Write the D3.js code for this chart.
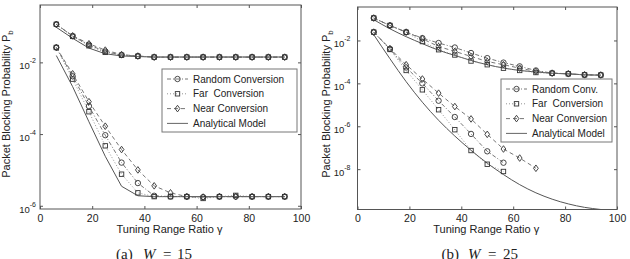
<!DOCTYPE html>
<html>
<head>
<meta charset="utf-8">
<script src="https://cdn.jsdelivr.net/npm/d3@7"></script>
<style>
  body { margin: 0; background: #fff; }
  svg { display: block; }
  text { font-family: "Liberation Sans", Arial, sans-serif; fill: #222; }
</style>
</head>
<body>
<div id="chart"></div>
<script>
// tuning range ratio values (x)
const gamma = [6.25, 12.5, 18.75, 25, 31.25, 37.5, 43.75, 50, 56.25, 62.5, 68.75, 75, 81.25, 87.5, 93.75];
const xTicks = [0, 20, 40, 60, 80, 100];

// (a) W = 15, upper group
const w15RandomHigh = [0.115, 0.054, 0.031, 0.020, 0.016, 0.015, 0.014, 0.014, 0.014, 0.014, 0.014, 0.014, 0.014, 0.014, 0.014];
const w15FarHigh    = [0.115, 0.053, 0.029, 0.019, 0.0158, 0.0148, 0.014, 0.014, 0.014, 0.014, 0.014, 0.014, 0.014, 0.014, 0.014];
const w15NearHigh   = [0.115, 0.055, 0.033, 0.022, 0.0165, 0.015, 0.014, 0.014, 0.014, 0.014, 0.014, 0.014, 0.014, 0.014, 0.014];
const w15ModelHigh  = [0.095, 0.047, 0.025, 0.0174, 0.0151, 0.0145, 0.0141, 0.0141, 0.0141, 0.0141, 0.0141, 0.0141, 0.0141, 0.0141, 0.0141];
// (a) W = 15, lower group
const w15RandomLow = [0.026, 0.0041, 6.0e-4, 9.3e-5, 1.6e-5, 4.3e-6, 1.9e-6, 1.8e-6, 1.8e-6, 1.75e-6, 1.8e-6, 1.8e-6, 1.8e-6, 1.8e-6, 1.8e-6];
const w15FarLow    = [0.026, 0.0034, 4.2e-4, 4.7e-5, 7.6e-6, 2.3e-6, 1.8e-6, 1.8e-6, 1.8e-6, 1.6e-6, 1.8e-6, 1.95e-6, 1.8e-6, 1.8e-6, 1.8e-6];
const w15NearLow   = [0.026, 0.0048, 8.0e-4, 1.66e-4, 3.7e-5, 1.0e-5, 3.6e-6, 2.3e-6, 1.8e-6, 1.75e-6, 1.8e-6, 1.8e-6, 1.8e-6, 1.8e-6, 1.8e-6];
const w15ModelLow  = [0.0155, 2.1e-3, 2.2e-4, 2.4e-5, 3.5e-6, 1.9e-6, 1.8e-6, 1.8e-6, 1.8e-6, 1.8e-6, 1.8e-6, 1.8e-6, 1.8e-6, 1.8e-6, 1.8e-6];

// (b) W = 25, upper group
const w25RandomHigh = [0.111, 0.050, 0.0245, 0.0129, 0.0076, 0.0047, 0.0026, 0.0015, 9.3e-4, 6.2e-4, 4.0e-4, 3.0e-4, 2.8e-4, 2.5e-4, 2.45e-4];
const w25FarHigh    = [0.111, 0.050, 0.024, 0.0089, 0.0037, 0.0021, 0.0011, 7.4e-4, 5.1e-4, 4.0e-4, 3.2e-4, 2.95e-4, 2.8e-4, 2.5e-4, 2.45e-4];
const w25NearHigh   = [0.111, 0.050, 0.0245, 0.012, 0.0052, 0.0031, 0.0018, 0.00105, 7.4e-4, 5.1e-4, 3.6e-4, 3.0e-4, 2.8e-4, 2.5e-4, 2.45e-4];
const w25ModelHigh  = [0.093, 0.035, 0.015, 0.0071, 0.0035, 0.0020, 0.00117, 7.4e-4, 5.2e-4, 4.0e-4, 3.4e-4, 2.95e-4, 2.75e-4, 2.5e-4, 2.4e-4];
// (b) W = 25, lower group (simulations stop early)
const w25RandomLow = [0.0245, 0.004, 5.5e-4, 1.0e-4, 1.55e-5, 2.7e-6, 4.4e-7, 6.8e-8, 2.0e-8];
const w25FarLow    = [0.0245, 0.0038, 4.0e-4, 5.0e-5, 5.9e-6, 6.9e-7, 7.4e-8, 1.7e-8, 7.8e-9];
const w25NearLow   = [0.0245, 0.0042, 7.4e-4, 1.6e-4, 3.5e-5, 8.3e-6, 2.2e-6, 4.2e-7, 8.7e-8, 3.3e-8, 1.1e-8];
const w25ModelLow  = [0.0186, 1.41e-3, 1.2e-4, 1.32e-5, 1.9e-6, 3.5e-7, 7.6e-8, 1.9e-8, 5.6e-9, 1.9e-9, 7.9e-10, 4.0e-10, 2.4e-10, 1.66e-10, 1.32e-10];

const yExpW15 = [-6, -4, -2];
const yExpW25 = [-8, -6, -4, -2];
const legendW15 = ["Random Conversion", "Far  Conversion", "Near Conversion", "Analytical Model"];
const legendW25 = ["Random Conv.", "Far  Conversion", "Near Conversion", "Analytical Model"];

const svg = d3.select("#chart").append("svg")
    .attr("width", 630)
    .attr("height", 259);

const serif = "'Liberation Serif', 'DejaVu Serif', 'Times New Roman', serif";

// line styles for the 4 kinds of curve
const styles = {
    random: { dash: "4,2,1,2", stroke: "#666", marker: "circle" },
    far:    { dash: "1,2",     stroke: "#888", marker: "square" },
    near:   { dash: "4,3",     stroke: "#666", marker: "diamond" },
    model:  { dash: null,      stroke: "#555", marker: null }
};

function drawMarker(g, kind, cx, cy) {
    let m;
    if (kind === "circle") {
        m = g.append("circle").attr("cx", cx).attr("cy", cy).attr("r", 2.7);
    } else if (kind === "square") {
        m = g.append("rect").attr("x", cx - 2.2).attr("y", cy - 2.2).attr("width", 4.4).attr("height", 4.4);
    } else {
        m = g.append("path").attr("d", `M${cx},${cy - 3.3}L${cx + 2.4},${cy}L${cx},${cy + 3.3}L${cx - 2.4},${cy}Z`);
    }
    m.attr("fill", "none").attr("stroke", "#333").attr("stroke-width", 0.9);
}

function drawPanel(p) {
    let x = d3.scaleLinear().domain([0, 100]).range([p.left, p.right]);
    let y = d3.scaleLog().domain(p.yDomain).range([p.bottom, p.top]);

    let clipId = "clip" + p.id;
    svg.append("clipPath").attr("id", clipId)
        .append("rect")
        .attr("x", p.left).attr("y", p.top)
        .attr("width", p.right - p.left).attr("height", p.bottom - p.top);

    let plot = svg.append("g").attr("clip-path", "url(#" + clipId + ")");

    for (let s of p.series) {
        let st = styles[s.kind];
        let pts = s.values.map((v, i) => [gamma[i], v]);
        let line = d3.line()
            .x(d => x(d[0]))
            .y(d => y(d[1]))
            .curve(s.kind === "model" && p.smoothModel ? d3.curveMonotoneX : d3.curveLinear);
        plot.append("path")
            .datum(pts)
            .attr("d", line)
            .attr("fill", "none")
            .attr("stroke", st.stroke)
            .attr("stroke-width", s.kind === "model" ? 1 : 0.9)
            .attr("stroke-dasharray", st.dash);
        if (st.marker) {
            for (let d of pts) drawMarker(plot, st.marker, x(d[0]), y(d[1]));
        }
    }

    // box
    svg.append("rect")
        .attr("x", p.left).attr("y", p.top)
        .attr("width", p.right - p.left).attr("height", p.bottom - p.top)
        .attr("fill", "none").attr("stroke", "#555").attr("stroke-width", 1);

    // x axes (bottom with labels, top ticks only)
    svg.append("g")
        .attr("transform", "translate(0," + p.bottom + ")")
        .call(d3.axisBottom(x).tickValues(xTicks).tickSize(-3).tickPadding(5.5).tickSizeOuter(0))
        .call(g => g.select(".domain").remove())
        .call(g => g.selectAll("line").attr("stroke", "#555"))
        .call(g => g.selectAll("text").attr("font-size", 10.5).attr("fill", "#222")
            .attr("font-family", "Liberation Sans, Arial, sans-serif"));
    svg.append("g")
        .attr("transform", "translate(0," + p.top + ")")
        .call(d3.axisTop(x).tickValues(xTicks).tickSize(-3).tickFormat("").tickSizeOuter(0))
        .call(g => g.select(".domain").remove())
        .call(g => g.selectAll("line").attr("stroke", "#555"));

    let yTicks = p.yExp.map(e => Math.pow(10, e));
    svg.append("g")
        .attr("transform", "translate(" + p.left + ",0)")
        .call(d3.axisLeft(y).tickValues(yTicks).tickSize(-3).tickFormat("").tickSizeOuter(0))
        .call(g => g.select(".domain").remove())
        .call(g => g.selectAll("line").attr("stroke", "#555"))
        .call(g => g.selectAll(".tick").each(function(d) {
            let t = d3.select(this).append("text")
                .attr("x", -p.labelGap).attr("y", 6.5)
                .attr("text-anchor", "end")
                .attr("font-size", 9.5)
                .attr("fill", "#222")
                .attr("font-family", "Liberation Sans, Arial, sans-serif");
            t.append("tspan").text("10");
            t.append("tspan").attr("dy", -6).attr("font-size", 7)
                .text(Math.round(Math.log10(d)));
        }));
    svg.append("g")
        .attr("transform", "translate(" + p.right + ",0)")
        .call(d3.axisRight(y).tickValues(yTicks).tickSize(-3).tickFormat("").tickSizeOuter(0))
        .call(g => g.select(".domain").remove())
        .call(g => g.selectAll("line").attr("stroke", "#555"));

    // axis titles
    svg.append("text")
        .attr("x", (p.left + p.right) / 2 - 1).attr("y", 233)
        .attr("text-anchor", "middle").attr("font-size", 11)
        .text("Tuning Range Ratio \u03b3");
    let yl = svg.append("text")
        .attr("transform", "translate(" + p.ylabelX + ",104) rotate(-90)")
        .attr("text-anchor", "middle").attr("font-size", 11);
    yl.append("tspan").text("Packet Blocking Probability P");
    yl.append("tspan").attr("dy", 3).attr("font-size", 8).text("b");

    // legend
    let lg = svg.append("g");
    lg.append("rect")
        .attr("x", p.legend.x).attr("y", p.legend.y)
        .attr("width", p.legend.w).attr("height", p.legend.h)
        .attr("fill", "#fff").attr("stroke", "#777").attr("stroke-width", 1);
    let kinds = ["random", "far", "near", "model"];
    p.legendNames.forEach((name, i) => {
        let st = styles[kinds[i]];
        let ly = p.legend.y + 10 + i * 14.8;
        lg.append("line")
            .attr("x1", p.legend.x + 5).attr("x2", p.legend.x + 26)
            .attr("y1", ly).attr("y2", ly)
            .attr("stroke", st.stroke).attr("stroke-width", 0.9)
            .attr("stroke-dasharray", st.dash);
        if (st.marker) drawMarker(lg, st.marker, p.legend.x + 15.5, ly);
        lg.append("text")
            .attr("x", p.legend.x + 31).attr("y", ly + 3.5)
            .attr("font-size", 10)
            .style("white-space", "pre")
            .text(name);
    });

    // caption
    let c = p.caption;
    let parts = [c.tag, "W", "=", c.num];
    parts.forEach((s, i) => {
        svg.append("text")
            .attr("x", c.x[i]).attr("y", 258.5)
            .style("font-family", serif)
            .style("font-size", "15px")
            .style("font-style", s === "W" ? "italic" : "normal")
            .text(s);
    });
}

drawPanel({
    id: "a", left: 40, right: 301, top: 5, bottom: 209,
    yDomain: [Math.pow(10, -6.09), Math.pow(10, -0.40)],
    yExp: yExpW15, labelGap: 4, ylabelX: 10, smoothModel: false,
    legend: { x: 162, y: 69, w: 135, h: 63 },
    legendNames: legendW15,
    caption: { tag: "(a)", num: "15", x: [116, 143, 163, 177] },
    series: [
        { kind: "model", values: w15ModelHigh },
        { kind: "model", values: w15ModelLow },
        { kind: "far", values: w15FarHigh },
        { kind: "far", values: w15FarLow },
        { kind: "random", values: w15RandomHigh },
        { kind: "random", values: w15RandomLow },
        { kind: "near", values: w15NearHigh },
        { kind: "near", values: w15NearLow }
    ]
});

drawPanel({
    id: "b", left: 357.5, right: 617, top: 7, bottom: 209.5,
    yDomain: [Math.pow(10, -9.88), Math.pow(10, -0.44)],
    yExp: yExpW25, labelGap: 7, ylabelX: 330, smoothModel: true,
    legend: { x: 501, y: 79, w: 111, h: 63 },
    legendNames: legendW25,
    caption: { tag: "(b)", num: "25", x: [441.5, 468, 488, 503] },
    series: [
        { kind: "model", values: w25ModelHigh },
        { kind: "model", values: w25ModelLow },
        { kind: "far", values: w25FarHigh },
        { kind: "far", values: w25FarLow },
        { kind: "random", values: w25RandomHigh },
        { kind: "random", values: w25RandomLow },
        { kind: "near", values: w25NearHigh },
        { kind: "near", values: w25NearLow }
    ]
});
</script>
</body>
</html>
